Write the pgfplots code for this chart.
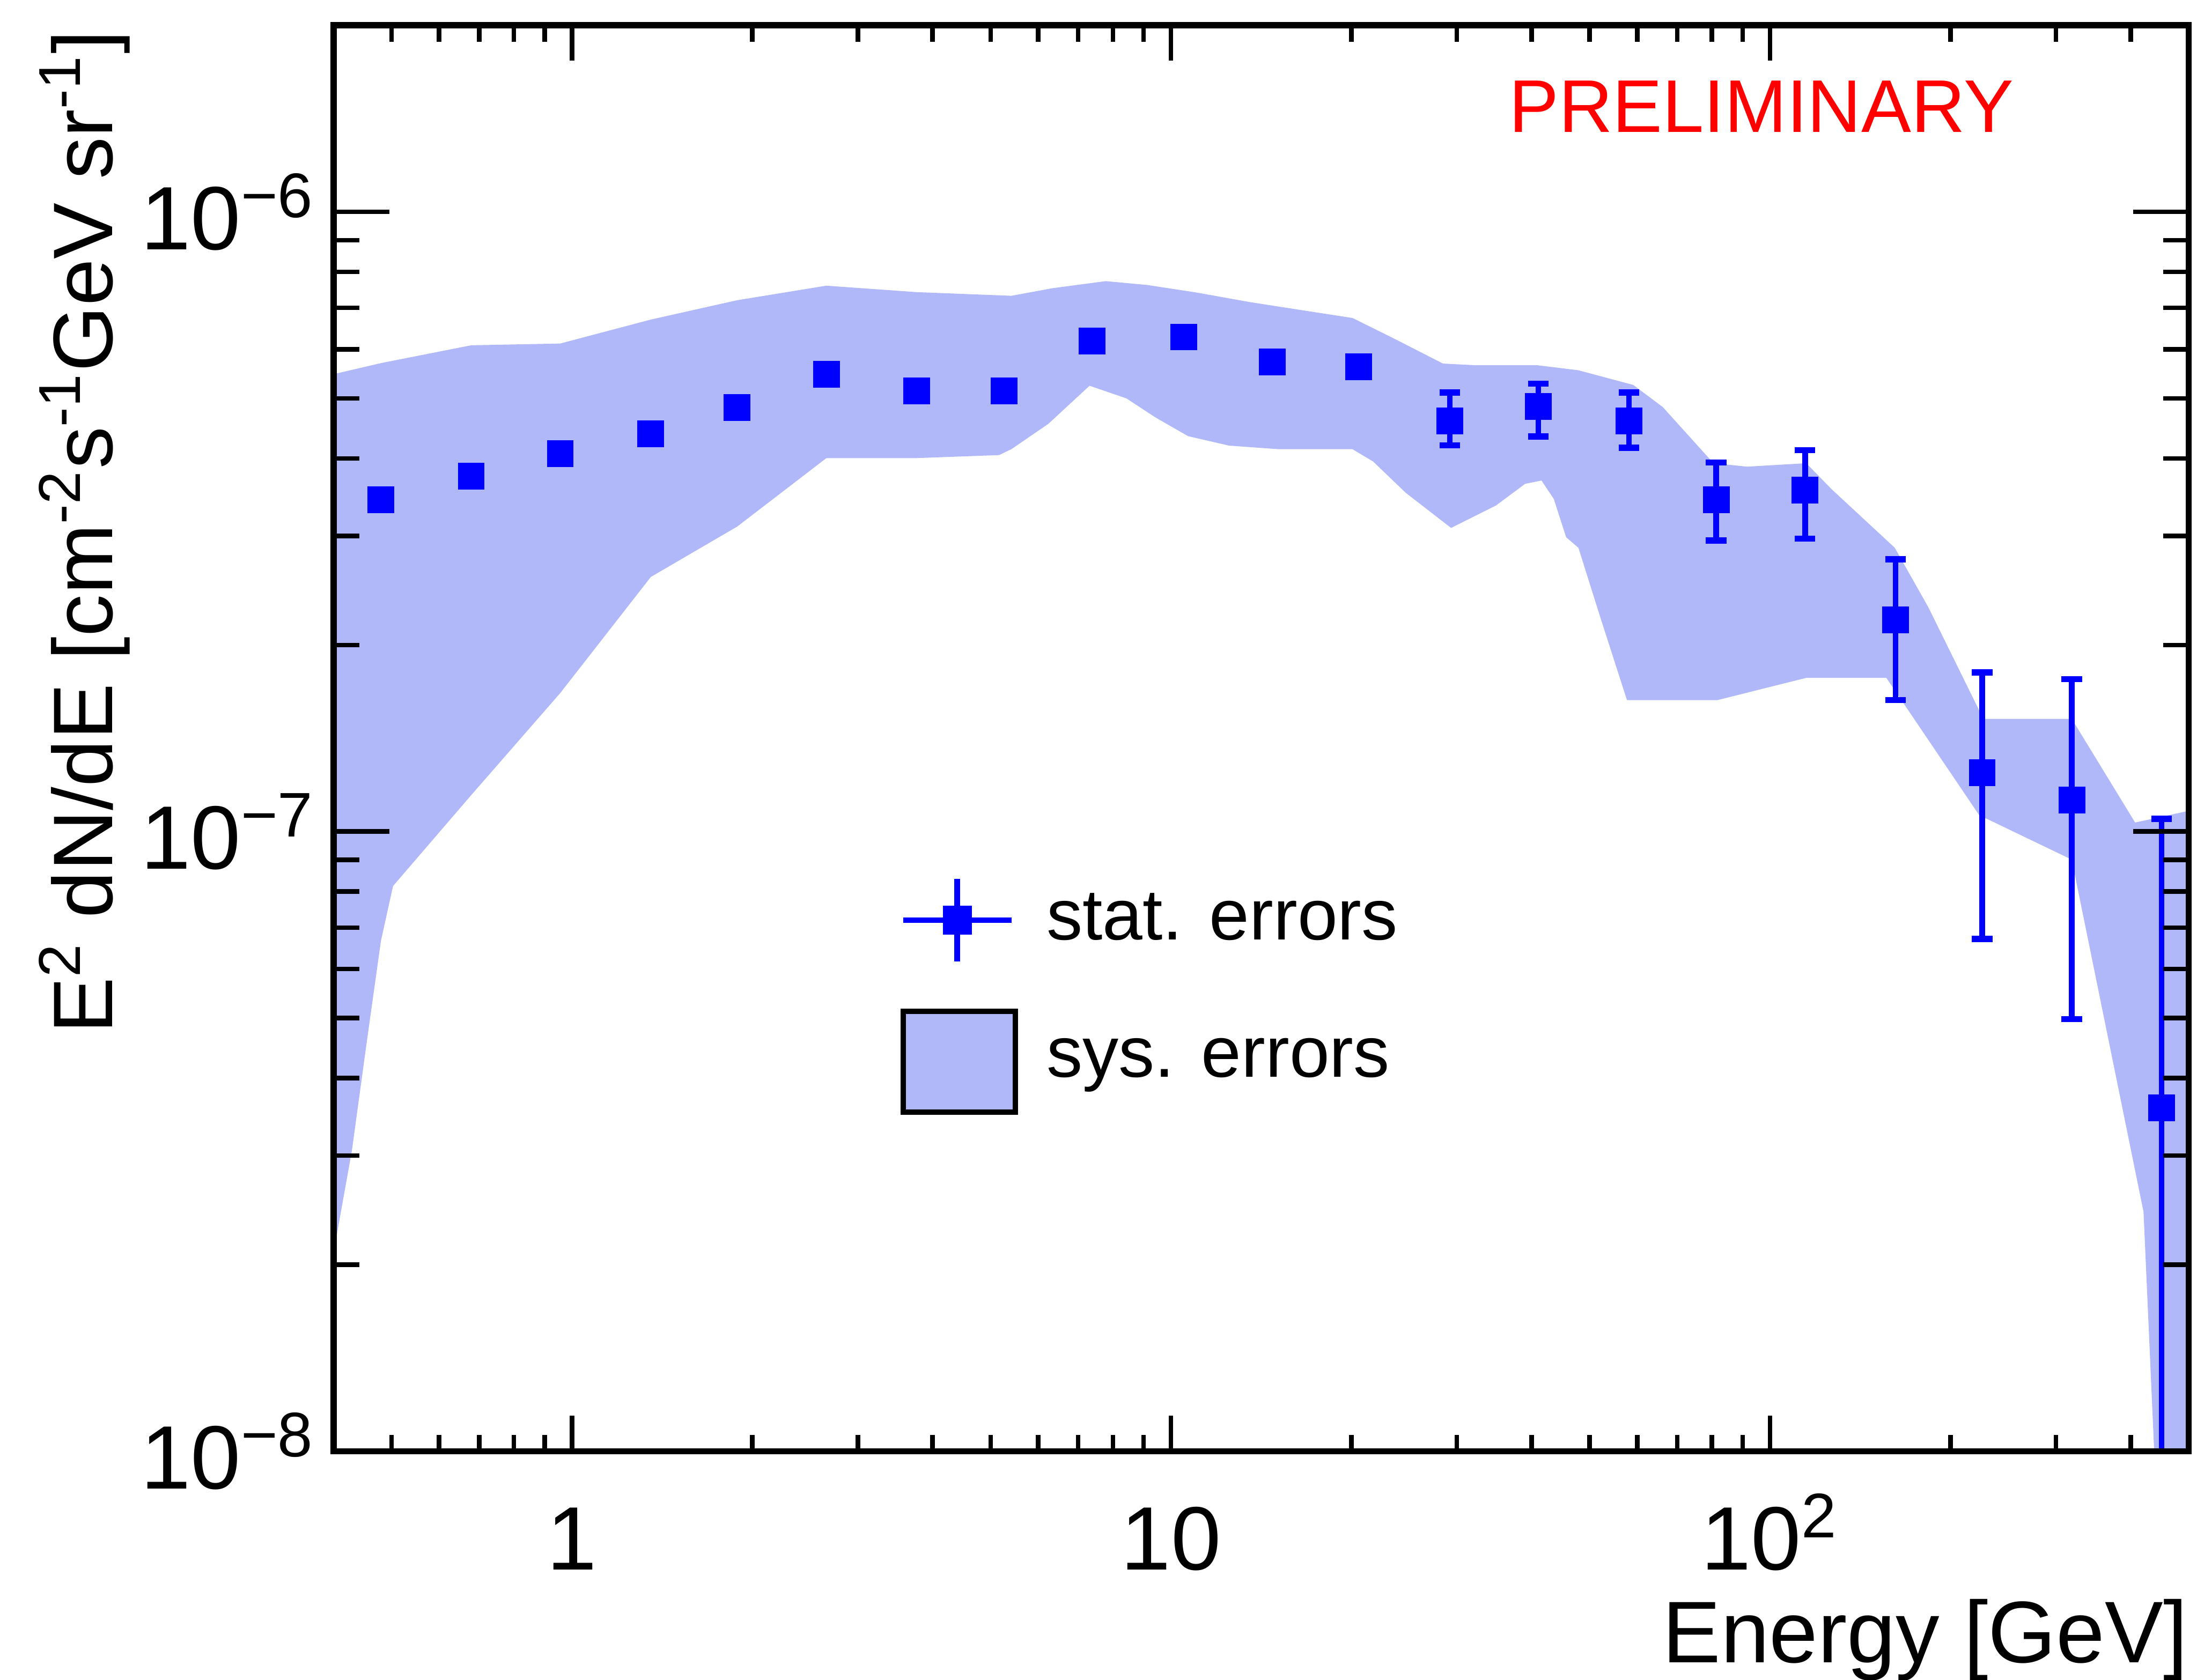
\documentclass[border=0pt]{standalone}
\usepackage{fontspec}
\setmainfont{Liberation Sans}
\usepackage{pgfplots}
\pgfplotsset{compat=1.18}
\definecolor{bandblue}{RGB}{176,184,250}

\pgfplotstableread{
x y ep em
0.480 3.43e-7 0 0
0.679 3.745e-7 0 0
0.956 4.07e-7 0 0
1.354 4.386e-7 0 0
1.887 4.83e-7 0 0
2.659 5.47e-7 0 0
3.762 5.14e-7 0 0
5.265 5.145e-7 0 0
7.39 6.185e-7 0 0
10.51 6.28e-7 0 0
14.76 5.72e-7 0.15e-7 0.15e-7
20.56 5.62e-7 0.17e-7 0.17e-7
29.2 4.60e-7 0.51e-7 0.40e-7
41.04 4.855e-7 0.425e-7 0.515e-7
58.14 4.60e-7 0.51e-7 0.44e-7
81.3 3.43e-7 0.51e-7 0.48e-7
114.4 3.555e-7 0.57e-7 0.585e-7
162 2.195e-7 0.555e-7 0.565e-7
226 1.244e-7 0.562e-7 0.573e-7
319 1.124e-7 0.638e-7 0.626e-7
450.4 3.58e-8 6.9e-8 3.579e-8
}\datatable

\begin{document}
\begin{tikzpicture}
\begin{axis}[
  scale only axis,
  width=360.4pt, height=277.1pt,
  xmode=log, ymode=log,
  xmin=0.4, xmax=500, ymin=1e-8, ymax=2e-6,
  axis on top,
  clip=true,
  axis line style={line width=1.2pt},
  tick align=inside,
  tick style={line width=0.9pt, black},
  major tick length=10.9pt,
  minor tick length=5pt,
  every major x tick/.append style={/pgfplots/major tick length=6.9pt},
  every minor x tick/.append style={/pgfplots/minor tick length=3.2pt},
  xtick={1,10,100},
  xticklabels={1,10,10\textsuperscript{2}},
  minor xtick={0.5,0.6,0.7,0.8,0.9,2,3,4,5,6,7,8,9,20,30,40,50,60,70,80,90,200,300,400},
  ytick={1e-8,1e-7,1e-6},
  yticklabels={10\textsuperscript{−8},10\textsuperscript{−7},10\textsuperscript{−6}},
  minor ytick={2e-8,3e-8,4e-8,5e-8,6e-8,7e-8,8e-8,9e-8,2e-7,3e-7,4e-7,5e-7,6e-7,7e-7,8e-7,9e-7,2e-6},
  tick label style={font=\fontsize{17.5}{20}\selectfont},
  xticklabel style={anchor=base, yshift=-23pt},
  xlabel={Energy [GeV]},
  xlabel style={at={(axis description cs:1,-0.148)}, anchor=base east, inner sep=0pt, font=\fontsize{17}{20}\selectfont},
  ylabel={E\textsuperscript{2} dN/dE [cm\textsuperscript{-2}s\textsuperscript{-1}GeV sr\textsuperscript{-1}]},
  ylabel style={at={(axis description cs:-0.1193,0.997)}, anchor=base east, inner sep=0pt, font=\fontsize{16.4}{19}\selectfont},
  legend style={draw=none, fill=none, at={(axis description cs:0.305,0.404)}, anchor=north west,
    font=\fontsize{14}{16}\selectfont, row sep=8.6pt, inner sep=0pt,
    /tikz/every odd column/.append style={column sep=3.5pt}},
  legend cell align=left,
  reverse legend,
]
\addplot[draw=none, fill=bandblue,
  legend image code/.code={\draw[black, line width=1.1pt, fill=bandblue] (0pt,-9.8pt) rectangle (21.8pt,9.8pt);}]
coordinates {
(0.4,5.47e-7) (0.480,5.70e-7) (0.679,6.09e-7) (0.956,6.13e-7) (1.354,6.70e-7)
(1.887,7.20e-7) (2.659,7.60e-7) (3.762,7.42e-7) (5.415,7.32e-7) (6.345,7.53e-7)
(7.785,7.73e-7) (9.12,7.62e-7) (11.02,7.41e-7) (13.54,7.15e-7) (17.16,6.90e-7)
(20.09,6.74e-7) (23.52,6.25e-7) (28.44,5.69e-7) (32.27,5.655e-7) (40.9,5.655e-7)
(47.88,5.55e-7) (59.12,5.255e-7) (66.22,4.84e-7) (80.45,3.93e-7) (91.6,3.88e-7)
(114.9,3.93e-7) (126.6,3.57e-7) (161.5,2.87e-7) (183.8,2.30e-7) (227,1.52e-7)
(318.9,1.52e-7) (406.8,1.034e-7) (500,1.08e-7)
(500,5e-9) (452,5e-9) (420.2,2.435e-8) (318.9,9.01e-8) (223.4,1.063e-7)
(156.4,1.77e-7) (114.9,1.77e-7) (81.75,1.63e-7) (57.7,1.63e-7) (51.9,2.24e-7)
(47.88,2.87e-7) (45.67,2.985e-7) (43.56,3.44e-7) (41.55,3.685e-7) (39.0,3.64e-7)
(34.9,3.36e-7) (29.35,3.09e-7) (24.66,3.52e-7) (21.75,3.955e-7) (20.09,4.14e-7)
(15.12,4.14e-7) (12.5,4.195e-7) (10.68,4.345e-7) (9.415,4.66e-7) (8.425,5.00e-7)
(7.312,5.24e-7) (6.243,4.55e-7) (5.415,4.14e-7) (5.164,4.05e-7) (3.762,4.005e-7)
(2.659,4.005e-7) (1.887,3.105e-7) (1.354,2.575e-7) (0.956,1.673e-7) (0.679,1.145e-7)
(0.5028,8.17e-8) (0.480,6.67e-8) (0.4535,4.51e-8) (0.4293,3.06e-8) (0.4,2.09e-8)
} -- cycle;
\addlegendentry{sys. errors}
\addplot[blue, only marks, mark=square*, mark size=2.4pt, mark options={fill=blue, draw=blue},
  legend image code/.code={
    \draw[blue, line width=1.1pt] (0pt,0pt) -- (21pt,0pt);
    \draw[blue, line width=1.1pt] (10.5pt,-8pt) -- (10.5pt,8pt);
    \fill[blue] (7.9pt,-2.6pt) rectangle (13.1pt,2.6pt);
  },
  error bars/.cd, y dir=both, y explicit,
  error bar style={line width=1.1pt, blue},
  error mark options={blue, mark size=2pt, line width=1.2pt, rotate=90},
]
table[x=x, y=y, y error plus=ep, y error minus=em] {\datatable};
\addlegendentry{stat. errors}
\node[anchor=base west, text=red, inner sep=0pt, font=\fontsize{14.5}{17}\selectfont] at (axis description cs:0.633,0.925) {PRELIMINARY};
\end{axis}
\pgfresetboundingbox
\useasboundingbox ([shift={(-64.8pt,-44.4pt)}]current axis.south west) rectangle ([shift={(1.6pt,4.9pt)}]current axis.north east);
\end{tikzpicture}
\end{document}
